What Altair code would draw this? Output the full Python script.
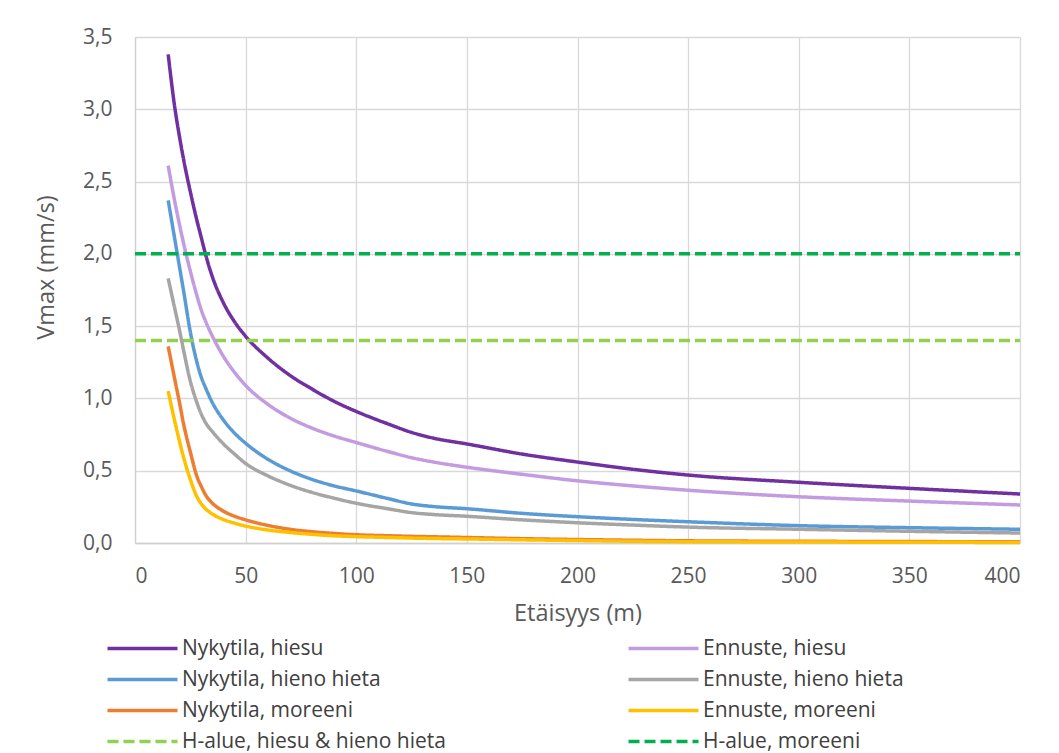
import altair as alt
import pandas as pd

# distances (m)
dist = [15, 18, 20, 22, 25, 28, 30, 32, 35, 40, 45, 50, 60, 70, 80, 90, 100,
        115, 125, 135, 150, 175, 200, 225, 250, 300, 350, 400]

nyk_hiesu = [3.38, 3.01, 2.82, 2.65, 2.43, 2.23, 2.11, 1.99, 1.84, 1.66, 1.53, 1.43,
             1.28, 1.16, 1.065, 0.98, 0.91, 0.82, 0.765, 0.725, 0.685, 0.615, 0.56,
             0.51, 0.47, 0.42, 0.378, 0.339]
enn_hiesu = [2.61, 2.36, 2.21, 2.07, 1.88, 1.71, 1.61, 1.53, 1.43, 1.29, 1.18, 1.09,
             0.96, 0.865, 0.795, 0.74, 0.695, 0.63, 0.59, 0.56, 0.524, 0.475, 0.43,
             0.395, 0.365, 0.32, 0.29, 0.263]
nyk_hieta = [2.37, 2.10, 1.92, 1.74, 1.46, 1.25, 1.145, 1.07, 0.97, 0.85, 0.76, 0.69,
             0.58, 0.50, 0.44, 0.395, 0.36, 0.305, 0.27, 0.252, 0.237, 0.205, 0.182,
             0.163, 0.147, 0.12, 0.106, 0.095]
enn_hieta = [1.83, 1.62, 1.48, 1.33, 1.12, 0.97, 0.89, 0.83, 0.77, 0.685, 0.615, 0.55,
             0.465, 0.40, 0.35, 0.31, 0.275, 0.235, 0.21, 0.197, 0.185, 0.16, 0.14,
             0.124, 0.11, 0.095, 0.081, 0.069]
nyk_moreeni = [1.36, 1.13, 0.98, 0.82, 0.63, 0.46, 0.39, 0.33, 0.275, 0.22, 0.185, 0.16,
               0.122, 0.095, 0.078, 0.066, 0.057, 0.05, 0.046, 0.043, 0.038, 0.03, 0.024,
               0.019, 0.015, 0.012, 0.01, 0.008]
enn_moreeni = [1.05, 0.84, 0.71, 0.59, 0.44, 0.32, 0.27, 0.235, 0.20, 0.162, 0.137, 0.117,
               0.09, 0.073, 0.06, 0.05, 0.044, 0.038, 0.034, 0.031, 0.028, 0.022, 0.017,
               0.012, 0.009, 0.007, 0.005, 0.004]

# limit lines
h_dist = [0, 400]
h_hiesu_hieta = [1.4, 1.4]
h_moreeni = [2.0, 2.0]

left_names = ["Nykytila, hiesu", "Nykytila, hieno hieta", "Nykytila, moreeni",
              "H-alue, hiesu & hieno hieta"]
left_colors = ["#7030A0", "#5B9BD5", "#ED7D31", "#92D050"]
right_names = ["Ennuste, hiesu", "Ennuste, hieno hieta", "Ennuste, moreeni",
               "H-alue, moreeni"]
right_colors = ["#C39BE0", "#A5A5A5", "#FFC000", "#00B050"]
dashes = [[1, 0], [1, 0], [1, 0], [11, 5]]

rows = []
def add(name, xs, ys, side):
    for x, y in zip(xs, ys):
        rows.append({"d": x, "v": y, "series": name, "side": side})

add(left_names[0], dist, nyk_hiesu, "L")
add(left_names[1], dist, nyk_hieta, "L")
add(left_names[2], dist, nyk_moreeni, "L")
add(left_names[3], h_dist, h_hiesu_hieta, "L")
add(right_names[0], dist, enn_hiesu, "R")
add(right_names[1], dist, enn_hieta, "R")
add(right_names[2], dist, enn_moreeni, "R")
add(right_names[3], h_dist, h_moreeni, "R")
df = pd.DataFrame(rows)

FONT = "Open Sans"

x_enc = alt.X("d:Q", scale=alt.Scale(domain=[0, 400], nice=False),
              axis=alt.Axis(values=list(range(0, 401, 50)), title="Etäisyys (m)",
                            labelPadding=39, labelBaseline="alphabetic",
                            titleY=77, titleBaseline="alphabetic"))
y_enc = alt.Y("v:Q", scale=alt.Scale(domain=[0, 3.5], nice=False),
              axis=alt.Axis(values=[0, 0.5, 1, 1.5, 2, 2.5, 3, 3.5], title="Vmax (mm/s)",
                            labelExpr="replace(format(datum.value, '.1f'), '.', ',')",
                            labelPadding=23, titleX=-82, titleY=230, titleAngle=270,
                            titleBaseline="alphabetic", titleAlign="center"))

def legend(xpos):
    return alt.Legend(orient="none", legendX=xpos, legendY=601, title=None,
                      direction="vertical", symbolType="M-5,0H5", symbolSize=196,
                      symbolStrokeWidth=3.5, labelFontSize=21, labelFont=FONT,
                      labelColor="#404040", labelOffset=29, rowPadding=9,
                      labelLimit=500)

layer_l = alt.Chart(df).transform_filter(alt.datum.side == "L").mark_line(
    strokeWidth=3.5, interpolate="monotone").encode(
    x=x_enc, y=y_enc,
    color=alt.Color("series:N", scale=alt.Scale(domain=left_names, range=left_colors),
                    legend=legend(-3), sort=left_names),
    strokeDash=alt.StrokeDash("series:N", scale=alt.Scale(domain=left_names, range=dashes),
                              legend=legend(-3), sort=left_names),
)
layer_r = alt.Chart(df).transform_filter(alt.datum.side == "R").mark_line(
    strokeWidth=3.5, interpolate="monotone").encode(
    x=x_enc, y=y_enc,
    color=alt.Color("series:N", scale=alt.Scale(domain=right_names, range=right_colors),
                    legend=legend(518), sort=right_names),
    strokeDash=alt.StrokeDash("series:N", scale=alt.Scale(domain=right_names, range=dashes),
                              legend=legend(518), sort=right_names),
)

chart = alt.layer(layer_l, layer_r).resolve_scale(
    color="independent", strokeDash="independent"
).properties(
    width=885, height=506,
    padding={"left": 127, "top": 29, "right": 31, "bottom": 210},
    autosize=alt.AutoSizeParams(type="none"),
    background="white",
).configure_view(stroke=None).configure_axis(
    grid=True, gridColor="#D9D9D9", gridWidth=1.3,
    domainColor="#D0D0D0", domainWidth=1.3, ticks=False,
    labelFont=FONT, labelFontSize=21, labelColor="#595959",
    titleFont=FONT, titleFontSize=23.5, titleFontWeight="normal", titleColor="#595959",
)

chart.save("out.html", embed_options={"renderer": "svg", "actions": False})
